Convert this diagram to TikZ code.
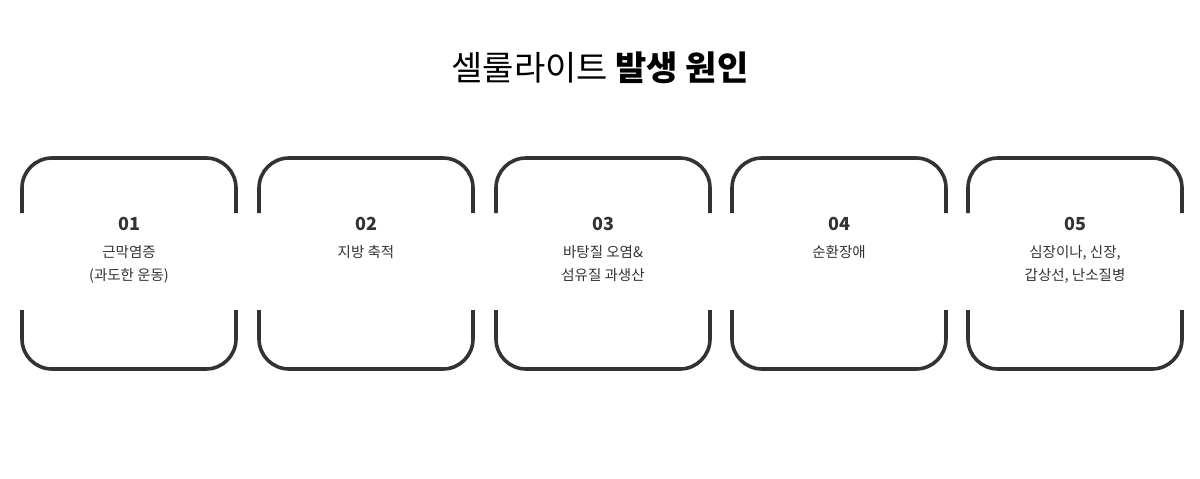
\documentclass[tikz,border=0pt]{standalone}
\usepackage{fontspec}
\usetikzlibrary{positioning}
\setmainfont{Noto Sans CJK KR}
\definecolor{ink}{HTML}{333333}
\tikzstyle{num} = [font=\fontsize{18}{20}\selectfont\bfseries, text=ink]
\tikzstyle{cause} = [font=\fontsize{14.5}{23}\selectfont, text=ink, align=center]
\tikzstyle{frame} = [draw=ink, line width=3.6pt, rounded corners=30pt]

\begin{document}
\begin{tikzpicture}[x=1pt,y=-1pt]
  \useasboundingbox (0,0) rectangle (1200,479);
  \node (title) at (600,68) [font=\fontsize{34}{40}\selectfont, text=black] {셀룰라이트 \bfseries 발생 원인};
  % bracket frames
  \foreach \x in {22,259,496,732,968} {
    \draw [frame] (\x,213) -- (\x,158) -- (\x+214,158) -- (\x+214,213);
    \draw [frame] (\x,310) -- (\x,369) -- (\x+214,369) -- (\x+214,310);
  }
  \node (n1) at (129,224) [num] {01};
  \node (n2) at (366,224) [num] {02};
  \node (n3) at (603,224) [num] {03};
  \node (n4) at (839,224) [num] {04};
  \node (n5) at (1075,224) [num] {05};
  \node (c1) [cause, below=8pt of n1] {근막염증\\(과도한 운동)};
  \node (c2) [cause, below=8pt of n2] {지방 축적};
  \node (c3) [cause, below=8pt of n3] {바탕질 오염\&\\섬유질 과생산};
  \node (c4) [cause, below=8pt of n4] {순환장애};
  \node (c5) [cause, below=8pt of n5] {심장이나, 신장,\\갑상선, 난소질병};
\end{tikzpicture}
\end{document}
